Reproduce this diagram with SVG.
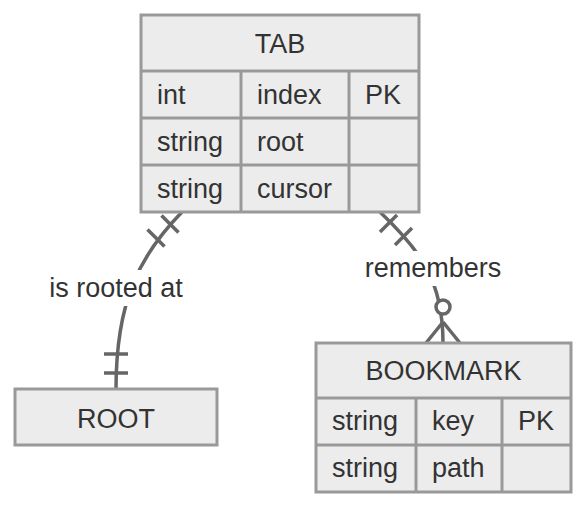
<svg xmlns="http://www.w3.org/2000/svg" width="586" height="508" viewBox="0 0 586 508">
<style>
.box{fill:#ececec;stroke:#999999;stroke-width:3}
.div{stroke:#999999;stroke-width:3;fill:none}
.t{font-family:"Liberation Sans",Arial,sans-serif;font-size:27px;fill:#333333}
.c{text-anchor:middle}
.edge{stroke:#666666;stroke-width:3.5;fill:none}
.lbl{fill:#ffffff;stroke:none}
</style>
<rect width="586" height="508" fill="#ffffff"/>
<g id="connectors">
<path class="edge" d="M182,212 C140,255 116,300 116,389"/>
<line class="edge" x1="161.5" y1="215.6" x2="178.5" y2="232.4"/>
<line class="edge" x1="147.5" y1="229.6" x2="164.5" y2="246.4"/>
<line class="edge" x1="104" y1="354" x2="128" y2="354"/>
<line class="edge" x1="104" y1="373" x2="128" y2="373"/>
<rect class="lbl" x="47" y="270" width="139" height="36"/>
<text class="t c" x="116" y="297">is rooted at</text>
<path class="edge" d="M380,212 C420,250 443,280 443,343"/>
<line class="edge" x1="397" y1="215" x2="380" y2="232"/>
<line class="edge" x1="412" y1="228" x2="395" y2="245"/>
<line class="edge" x1="443" y1="322" x2="426" y2="343"/>
<line class="edge" x1="443" y1="322" x2="460" y2="343"/>
<circle cx="443" cy="307" r="7" fill="#ffffff" stroke="#666666" stroke-width="3.5"/>
<rect class="lbl" x="363" y="251" width="141" height="35"/>
<text class="t c" x="433" y="277">remembers</text>
</g>
<g id="TAB">
<rect class="box" x="141" y="15" width="278" height="197"/>
<path class="div" d="M141,71H419M141,118H419M141,165H419M241,71V212M349,71V212"/>
<text class="t c" x="280" y="53">TAB</text>
<text class="t" x="157" y="104">int</text>
<text class="t" x="257" y="104">index</text>
<text class="t" x="365" y="104">PK</text>
<text class="t" x="157" y="151">string</text>
<text class="t" x="257" y="151">root</text>
<text class="t" x="157" y="198">string</text>
<text class="t" x="257" y="198">cursor</text>
</g>
<g id="ROOT">
<rect class="box" x="15" y="389" width="202" height="56"/>
<text class="t c" x="116" y="428">ROOT</text>
</g>
<g id="BOOKMARK">
<rect class="box" x="316" y="343" width="255" height="149"/>
<path class="div" d="M316,398H571M316,445H571M416,398V492M502,398V492"/>
<text class="t c" x="443.5" y="380">BOOKMARK</text>
<text class="t" x="332" y="430">string</text>
<text class="t" x="432" y="430">key</text>
<text class="t" x="518" y="430">PK</text>
<text class="t" x="332" y="477">string</text>
<text class="t" x="432" y="477">path</text>
</g>
</svg>
